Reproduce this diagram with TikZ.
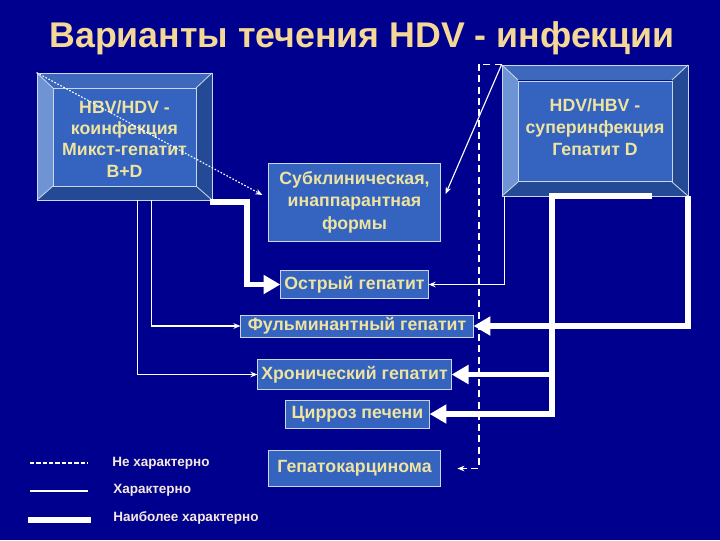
\documentclass[tikz,border=0pt]{standalone}
\usepackage{fontspec}
\setmainfont{Liberation Sans}
\usepackage{tikz}
\usetikzlibrary{arrows.meta,positioning,fit,calc}
\definecolor{slide}{RGB}{0,0,142}
\definecolor{face}{RGB}{52,100,192}
\definecolor{bvlight}{RGB}{110,148,214}
\definecolor{bvtop}{RGB}{62,104,188}
\definecolor{bvdark}{RGB}{36,74,150}
\definecolor{edgecol}{RGB}{200,215,235}
\definecolor{label}{RGB}{238,228,160}
\definecolor{headline}{RGB}{246,216,150}
\definecolor{legtext}{RGB}{245,232,225}

% bevelled box: name, x1, y1, x2, y2 (pixels)
\newcommand{\bevelbox}[5]{%
  \fill[bvtop] (#2,#3) -- (#4,#3) -- (#4-16,#3+15) -- (#2+16,#3+15) -- cycle;
  \fill[bvlight] (#2,#3) -- (#2+16,#3+15) -- (#2+16,#5-14) -- (#2,#5) -- cycle;
  \fill[bvdark] (#4,#3) -- (#4,#5) -- (#4-16,#5-14) -- (#4-16,#3+15) -- cycle;
  \fill[bvdark] (#2,#5) -- (#4,#5) -- (#4-16,#5-14) -- (#2+16,#5-14) -- cycle;
  \draw[edge] (#2,#3) -- (#2+16,#3+15) (#4,#3) -- (#4-16,#3+15)
              (#2,#5) -- (#2+16,#5-14) (#4,#5) -- (#4-16,#5-14);
  \node[edge, draw, fit={(#2,#3) (#4,#5)}, inner sep=0pt] (#1box) {};
}

\begin{document}
\begin{tikzpicture}[
  x=0.025cm, y=-0.025cm,
  edge/.style={draw=edgecol, line width=0.6pt},
  words/.style={text=label, inner sep=1pt, align=center,
                font=\bfseries\fontsize{12.6}{15.5}\selectfont},
  stage/.style={words, draw=edgecol, line width=0.7pt, fill=face},
  facebox/.style={stage, fit={#1}, inner sep=0pt},
  legend/.style={anchor=west, inner sep=0pt, text=legtext, font=\bfseries\fontsize{9.6}{11}\selectfont},
  thinarr/.style={-{Stealth[length=5pt,width=4pt]}, line width=0.8pt, white},
  dotarr/.style={thinarr, dash pattern=on 1.2pt off 1.2pt},
  dasharr/.style={thinarr, line width=1.3pt, dash pattern=on 5pt off 3pt},
  fatarr/.style={-{Triangle[length=12pt,width=13pt]}, line width=4.2pt, white, line join=miter},
]
\fill[slide] (0,0) rectangle (720,540);
\useasboundingbox (0,0) rectangle (720,540);

\node[text=headline, font=\bfseries\fontsize{25.4}{30}\selectfont] (head) at (362,38)
  {Варианты течения HDV - инфекции};

% the two infection types
\bevelbox{coinf}{37}{73}{212}{200}
\node[facebox={(53,88) (196,186)}] (coinf) {};
\node[words, font=\bfseries\fontsize{12.6}{15}\selectfont] (coinftext) at (124.5,139)
  {HBV/HDV -\\коинфекция\\Микст-гепатит\\B+D};
\bevelbox{super}{502}{65}{688}{196}
\node[facebox={(518,81) (672,181)}] (super) {};
\node[words, font=\bfseries\fontsize{12.6}{15.5}\selectfont] (supertext) at (595,127)
  {HDV/HBV -\\суперинфекция\\Гепатит D};

% outcomes
\node[stage, minimum width=4.28cm, minimum height=1.95cm,
      font=\bfseries\fontsize{12.6}{16}\selectfont] (sub) at (354.5,202)
  {Субклиническая,\\инаппарантная\\формы};
\node[stage, minimum width=3.68cm, minimum height=0.68cm] (acute) at (354.5,284.5) {Острый гепатит};
\node[stage, minimum width=5.8cm, minimum height=0.55cm] (fulm) at (357,326) {Фульминантный гепатит};
\node[stage, minimum width=4.83cm, minimum height=0.73cm] (chron) at (354.5,374.5) {Хронический гепатит};
\node[stage, minimum width=3.58cm, minimum height=0.7cm] (cirr) at (357.5,414) {Цирроз печени};
\node[stage, minimum width=4.28cm, minimum height=0.88cm] (carc) at (354.5,468.5) {Гепатокарцинома};

% from coinfection
\draw[dotarr] (coinfbox.north west) -- ([shift={(-6,-7)}]sub.west);
\draw[fatarr] ([shift={(-2,2)}]coinfbox.south east) -- ++(37,0) |- (acute.west);
\draw[thinarr] ([shift={(115,0)}]coinfbox.south west) |- (fulm.west);
\draw[thinarr] ([shift={(101,0)}]coinfbox.south west) |- (chron.west);

% from superinfection
\draw[thinarr] (superbox.north west) -- ([shift={(5,-8)}]sub.east);
\draw[dasharr, shorten >=0.42cm] (superbox.north west) -- ++(-23,0) |- (carc.east);
\draw[thinarr] ([shift={(3,0)}]superbox.south west) |- (acute.east);
\draw[fatarr] ([shift={(150,0)}]superbox.south west) -- ([shift={(50,0)}]superbox.south west)
  |- (cirr.east);
\draw[fatarr] ([shift={(50,0)}]superbox.south west |- chron.east) -- (chron.east);
\draw[fatarr] (superbox.south east) |- (fulm.east);

% legend
\coordinate (l1a) at (30,463); \coordinate (l1b) at (88,463);
\coordinate (l2a) at (30,491); \coordinate (l2b) at (88,491);
\coordinate (l3a) at (28,520); \coordinate (l3b) at (91,520);
\draw[white, line width=0.8pt, dash pattern=on 3pt off 1.5pt] (l1a) -- (l1b);
\draw[white, line width=0.8pt] (l2a) -- (l2b);
\draw[white, line width=4.3pt] (l3a) -- (l3b);
\node[legend] (leg1) at (112,463) {Не характерно};
\node[legend] (leg2) at (113,490) {Характерно};
\node[legend] (leg3) at (113,518) {Наиболее характерно};
\end{tikzpicture}
\end{document}
